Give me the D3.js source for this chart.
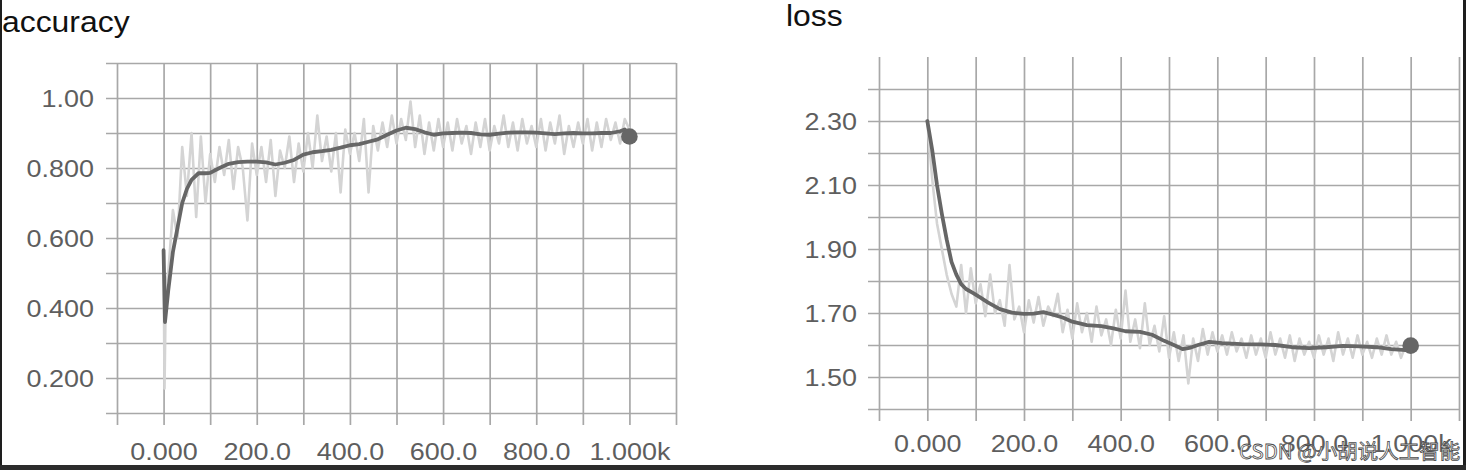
<!DOCTYPE html>
<html>
<head>
<meta charset="utf-8">
<script src="https://cdn.jsdelivr.net/npm/d3@7"></script>
<style>
  html, body { margin: 0; padding: 0; background: #fff; }
  svg { display: block; }
</style>
</head>
<body>
<svg id="chart" width="1466" height="470"></svg>
<script>
// ---------------- DATA ----------------
const xTickValues = [0, 200, 400, 600, 800, 1000];
const xTickLabels = ["0.000", "200.0", "400.0", "600.0", "800.0", "1.000k"];

const accYTickValues = [0.2, 0.4, 0.6, 0.8, 1.0];
const accYTickLabels = ["0.200", "0.400", "0.600", "0.800", "1.00"];
const lossYTickValues = [1.5, 1.7, 1.9, 2.1, 2.3];
const lossYTickLabels = ["1.50", "1.70", "1.90", "2.10", "2.30"];

// accuracy - smoothed
const accSmoothSteps = [0, 3, 10, 20, 30, 40, 50, 60, 75, 90, 100, 120, 140, 160, 180, 200, 220, 240, 260, 280, 300,
  320, 340, 360, 380, 400, 420, 440, 460, 480, 500, 520, 540, 560, 580, 600, 620, 640, 660, 680, 700,
  720, 740, 760, 780, 800, 820, 840, 860, 880, 900, 920, 940, 960, 980, 990, 1000];
const accSmooth = [0.565, 0.36, 0.45, 0.56, 0.63, 0.70, 0.74, 0.766, 0.785, 0.785, 0.786, 0.80, 0.812, 0.817, 0.818, 0.818, 0.816, 0.810, 0.815, 0.823, 0.838,
  0.845, 0.848, 0.852, 0.858, 0.865, 0.868, 0.875, 0.882, 0.895, 0.907, 0.915, 0.911, 0.902, 0.895, 0.899, 0.900, 0.901, 0.900, 0.896, 0.895,
  0.898, 0.901, 0.902, 0.902, 0.901, 0.899, 0.897, 0.899, 0.900, 0.899, 0.899, 0.900, 0.900, 0.905, 0.910, 0.890];

// accuracy - raw
const accRawSteps = [0, 2, 5].concat(d3.range(10, 1001, 10));
const accRaw = [0.56, 0.17, 0.47,
  0.50, 0.68, 0.60, 0.86, 0.72, 0.90, 0.66, 0.89, 0.70, 0.84,
  0.76, 0.86, 0.78, 0.88, 0.74, 0.86, 0.80, 0.65, 0.87, 0.78,
  0.86, 0.76, 0.88, 0.72, 0.85, 0.80, 0.89, 0.76, 0.87, 0.79,
  0.90, 0.80, 0.95, 0.82, 0.89, 0.79, 0.90, 0.73, 0.91, 0.84,
  0.90, 0.82, 0.94, 0.73, 0.92, 0.85, 0.93, 0.86, 0.95, 0.87,
  0.94, 0.88, 0.99, 0.86, 0.95, 0.84, 0.93, 0.85, 0.94, 0.86,
  0.93, 0.85, 0.94, 0.87, 0.92, 0.84, 0.93, 0.86, 0.94, 0.85,
  0.92, 0.87, 0.95, 0.86, 0.93, 0.85, 0.94, 0.87, 0.92, 0.86,
  0.94, 0.85, 0.93, 0.87, 0.95, 0.84, 0.92, 0.86, 0.93, 0.87,
  0.94, 0.85, 0.93, 0.86, 0.94, 0.88, 0.93, 0.87, 0.94, 0.91];

// loss - smoothed
const lossSmoothSteps = [0, 10, 20, 30, 40, 50, 60, 70, 80, 95, 110, 125, 150, 175, 200, 220, 240, 260, 280, 300,
  330, 360, 385, 410, 440, 465, 490, 510, 528, 545, 560, 583, 610, 650, 690, 720, 755, 790, 825, 860, 895, 930, 960, 990, 1000];
const lossSmooth = [2.30, 2.21, 2.10, 2.01, 1.93, 1.86, 1.82, 1.79, 1.775, 1.762, 1.748, 1.733, 1.712, 1.701, 1.697, 1.698, 1.703, 1.695, 1.686, 1.673,
  1.662, 1.659, 1.652, 1.643, 1.641, 1.632, 1.613, 1.600, 1.587, 1.592, 1.600, 1.610, 1.606, 1.603, 1.602, 1.600, 1.593, 1.590, 1.593, 1.597, 1.596, 1.593, 1.587, 1.584, 1.598];

// loss - raw
const lossRawSteps = d3.range(0, 1001, 10);
const lossRaw = [2.30,
  2.12, 1.98, 1.90, 1.82, 1.76, 1.72, 1.85, 1.70, 1.84, 1.73,
  1.79, 1.69, 1.82, 1.70, 1.74, 1.66, 1.85, 1.68, 1.72, 1.64,
  1.74, 1.67, 1.75, 1.66, 1.72, 1.69, 1.76, 1.64, 1.71, 1.62,
  1.73, 1.64, 1.70, 1.61, 1.72, 1.63, 1.68, 1.60, 1.71, 1.62,
  1.77, 1.61, 1.68, 1.59, 1.73, 1.60, 1.66, 1.58, 1.69, 1.56,
  1.64, 1.55, 1.63, 1.48, 1.62, 1.55, 1.65, 1.57, 1.64, 1.58,
  1.63, 1.57, 1.64, 1.58, 1.62, 1.56, 1.63, 1.57, 1.62, 1.56,
  1.64, 1.57, 1.62, 1.56, 1.63, 1.55, 1.62, 1.57, 1.61, 1.56,
  1.63, 1.57, 1.62, 1.55, 1.64, 1.57, 1.62, 1.56, 1.63, 1.57,
  1.61, 1.56, 1.62, 1.57, 1.63, 1.57, 1.61, 1.56, 1.60, 1.58];

const watermark = "CSDN @小胡说人工智能";

// ---------------- DRAW ----------------
const svg = d3.select("#chart");
const FONT = "'Liberation Sans', Arial, Helvetica, sans-serif";
const SX = 1.1; // horizontal stretch of the photographed text

function drawPanel(cfg) {
  const g = svg.append("g");
  const x = d3.scaleLinear().domain([-100, 1100]).range([cfg.left, cfg.right]);
  const y = d3.scaleLinear().domain(cfg.yDomain).range([cfg.bottom, cfg.top]);
  const h = cfg.bottom - cfg.top;
  const w = cfg.right - cfg.left;

  // vertical grid (with tick extension below)
  const vGrid = g.append("g")
    .attr("transform", `translate(0,${cfg.bottom + 12})`)
    .call(d3.axisBottom(x).tickValues(d3.range(-100, 1101, 100)).tickSize(-(h + 12)).tickFormat(""));
  vGrid.select(".domain").remove();
  vGrid.selectAll("line").attr("stroke", "#a8a8a8").attr("stroke-width", 1.7);

  // horizontal grid (with tick extension left)
  const gridY = d3.range(0, 11).map(i => cfg.yDomain[0] + i * 0.1);
  const hGrid = g.append("g")
    .attr("transform", `translate(${cfg.left - 11},0)`)
    .call(d3.axisRight(y).tickValues(gridY).tickSize(w + 11).tickFormat(""));
  hGrid.select(".domain").remove();
  hGrid.selectAll("line").attr("stroke", "#a8a8a8").attr("stroke-width", 1.7);

  // y labels
  const yAx = g.append("g")
    .attr("transform", `translate(${cfg.yLabelX},0)`)
    .call(d3.axisLeft(y).tickValues(cfg.yTicks).tickSize(0).tickPadding(0)
      .tickFormat((d, i) => cfg.yLabels[i]));
  yAx.select(".domain").remove();
  yAx.selectAll("text")
    .attr("x", 0).attr("dy", "0.36em")
    .attr("transform", `scale(${SX},1)`)
    .attr("font-family", FONT).attr("font-size", 24.5).attr("fill", "#5e5e5e");

  // x labels
  const xAx = g.append("g")
    .attr("transform", `translate(0,${cfg.xLabelY})`)
    .call(d3.axisBottom(x).tickValues(xTickValues).tickSize(0).tickPadding(0)
      .tickFormat((d, i) => xTickLabels[i]));
  xAx.select(".domain").remove();
  xAx.selectAll("text")
    .attr("y", 0).attr("dy", 0)
    .attr("transform", `scale(${SX},1)`)
    .attr("font-family", FONT).attr("font-size", 24.5).attr("fill", "#5e5e5e");

  // raw line
  const line = d3.line().x(d => x(d[0])).y(d => y(d[1]));
  g.append("path")
    .datum(cfg.rawSteps.map((s, i) => [s, cfg.raw[i]]))
    .attr("d", line)
    .attr("fill", "none").attr("stroke", "#d4d4d4").attr("stroke-width", 2.6)
    .attr("stroke-linejoin", "round");

  // smoothed line
  const sm = cfg.smoothSteps.map((s, i) => [s, cfg.smooth[i]]);
  g.append("path")
    .datum(sm)
    .attr("d", line)
    .attr("fill", "none").attr("stroke", "#666").attr("stroke-width", 3.8)
    .attr("stroke-linejoin", "round").attr("stroke-linecap", "round");

  // end marker
  const last = sm[sm.length - 1];
  g.append("circle")
    .attr("cx", x(last[0])).attr("cy", y(last[1])).attr("r", 8.3)
    .attr("fill", "#666");

  // title
  g.append("text")
    .attr("transform", `translate(${cfg.titleX},${cfg.titleY}) scale(${SX},1)`)
    .attr("font-family", FONT).attr("font-size", 29).attr("fill", "#111")
    .text(cfg.title);
}

drawPanel({
  title: "accuracy", titleX: 2, titleY: 32,
  left: 117, right: 676, top: 63, bottom: 413,
  yDomain: [0.1, 1.1], yTicks: accYTickValues, yLabels: accYTickLabels,
  yLabelX: 94, xLabelY: 460,
  rawSteps: accRawSteps, raw: accRaw, smoothSteps: accSmoothSteps, smooth: accSmooth
});

drawPanel({
  title: "loss", titleX: 786, titleY: 26,
  left: 879, right: 1459, top: 57, bottom: 409,
  yDomain: [1.4, 2.5], yTicks: lossYTickValues, yLabels: lossYTickLabels,
  yLabelX: 857, xLabelY: 452,
  rawSteps: lossRawSteps, raw: lossRaw, smoothSteps: lossSmoothSteps, smooth: lossSmooth
});

// watermark
svg.append("text")
  .attr("x", 1239).attr("y", 459)
  .attr("font-family", "'Noto Sans CJK SC', 'Liberation Sans', sans-serif")
  .attr("font-size", 20.5)
  .attr("fill", "#ffffff").attr("fill-opacity", 0.9)
  .attr("stroke", "#4a4a4a").attr("stroke-width", 0.8)
  .text(watermark);

// photo borders
svg.append("rect").attr("x", 0).attr("y", 0).attr("width", 2).attr("height", 470).attr("fill", "#1e1e1e");
svg.append("rect").attr("x", 1463).attr("y", 0).attr("width", 3).attr("height", 470).attr("fill", "#1e1e1e");
svg.append("rect").attr("x", 0).attr("y", 465).attr("width", 1466).attr("height", 5).attr("fill", "#2c2c2c");
</script>
</body>
</html>
